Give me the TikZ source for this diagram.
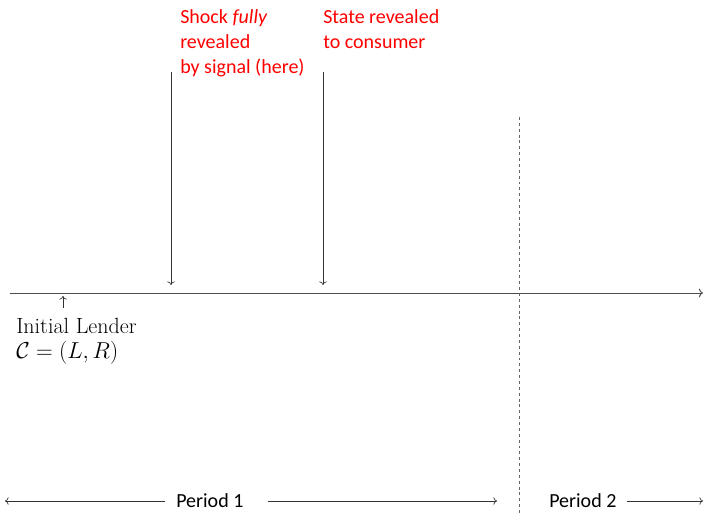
\documentclass[tikz,border=0pt]{standalone}
\usepackage{amsmath}
\usepackage{fontspec}
\newfontfamily\calib{Carlito}
\usetikzlibrary{arrows.meta,positioning}

\begin{document}
\begin{tikzpicture}[x=0.75pt,y=-0.75pt,>=To,
 note/.style={text=red,font=\calib\fontsize{15}{18.8}\selectfont,align=left,inner sep=0pt,anchor=north west},
 period/.style={font=\calib\fontsize{15}{17}\selectfont,inner sep=0pt,anchor=west},
 lender/.style={font=\fontsize{16.5}{19}\selectfont,align=left,inner sep=0pt,anchor=north west},
 timeline/.style={->,black!70,line width=0.7pt},
 pointer/.style={->,black!80,line width=0.5pt}]
\useasboundingbox (0,0) rectangle (704,513);
% time axis of the two periods
\coordinate (axisL) at (10,293);
\coordinate (axisR) at (703,293);
\draw[timeline] (axisL)--(axisR);
\coordinate (splitT) at (519,117);
\coordinate (splitB) at (519,513);
\draw[black!60,dashed,dash pattern=on 2.2pt off 2.2pt,line width=0.5pt] (splitT)--(splitB);

% events
\node[note] (shock) at (180,9) {Shock \textit{fully}\\revealed\\by signal (here)};
\node[note] (state) at (323,9) {State revealed\\to consumer};
\coordinate (shockT) at (171,72);
\coordinate (shockB) at (171,285);
\coordinate (stateT) at (323,72);
\coordinate (stateB) at (323,285);
\draw[pointer] (shockT)--(shockB);
\draw[pointer] (stateT)--(stateB);

% initial contract
\node[lender] (lender) at (16,317.5) {Initial Lender\\$\mathcal{C}=(L,R)$};
\coordinate (lenderT) at (63,296);
\coordinate (lenderB) at (63,308);
\draw[pointer] (lenderB)--(lenderT);

% periods
\node[period] (p1) at (176,501) {Period 1};
\node[period] (p2) at (549,501) {Period 2};
\coordinate (p1L) at (5,501);
\coordinate (p1R) at (497,501);
\coordinate (p2R) at (703,501);
\draw[pointer] ([xshift=-8.25pt]p1.west)--(p1L);
\draw[pointer] ([xshift=18pt]p1.east)--(p1R);
\draw[pointer] ([xshift=8pt]p2.east)--(p2R);
\end{tikzpicture}
\end{document}
